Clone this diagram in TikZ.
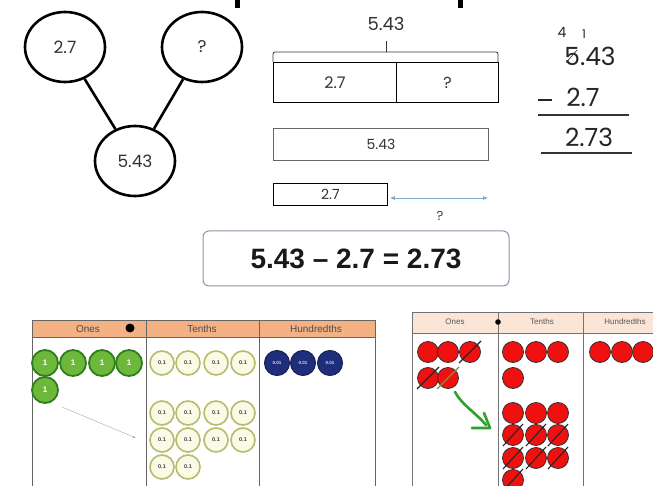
\documentclass[tikz,border=0pt]{standalone}
\usepackage{fontspec}
\setmainfont{Liberation Sans}
\newfontfamily\geo{Poppins}
\usetikzlibrary{arrows.meta,calc,shapes.geometric}
\definecolor{hdrA}{HTML}{F4B183}
\definecolor{hdrB}{HTML}{FBE5D6}
\definecolor{onegreen}{HTML}{6DB83A}
\definecolor{onegreenD}{HTML}{2F7D1E}
\definecolor{tenfill}{HTML}{FAFAE6}
\definecolor{tenborder}{HTML}{B5BC6A}
\definecolor{hundblue}{HTML}{1F2E7A}
\definecolor{arrblue}{HTML}{7FA7C9}
\definecolor{eqborder}{HTML}{8A96A8}
\definecolor{redc}{HTML}{F01010}
\definecolor{grarrow}{HTML}{2EA02E}
\tikzset{
  bond/.style={draw, line width=2.6pt, ellipse, minimum width=80pt, minimum height=70pt, inner sep=0pt, font=\geo\fontsize{17}{17}\selectfont, text=black!80},
  bondline/.style={line width=2.6pt},
  barbox/.style={draw, line width=0.9pt, inner sep=0pt, font=\geo\fontsize{16}{16}\selectfont, text=black!80},
  colnum/.style={font=\geo\fontsize{25}{25}\selectfont, text=black!85, inner sep=0pt},
  hdrtxt/.style={font=\fontsize{10}{10}\selectfont, text=black!70},
  hdrtxtB/.style={font=\fontsize{8}{8}\selectfont, text=black!65},
  onec/.style={circle, draw=onegreenD, line width=1.8pt, fill=onegreen, minimum size=26pt, inner sep=0pt, text=white, font=\bfseries\fontsize{8}{8}\selectfont},
  tenc/.style={circle, draw=tenborder, line width=1.6pt, fill=tenfill, minimum size=24pt, inner sep=0pt, text=black!75, font=\bfseries\fontsize{5.5}{5.5}\selectfont},
  hundc/.style={circle, draw=hundblue!70!black, line width=1pt, fill=hundblue, minimum size=25pt, inner sep=0pt, text=white!85!blue, font=\bfseries\fontsize{4.5}{4.5}\selectfont},
  redcirc/.style={circle, draw=black!80, line width=0.8pt, fill=redc, minimum size=21pt, inner sep=0pt},
  xline/.style={line width=1.1pt, black!85}
}
\begin{document}
\begin{tikzpicture}[x=1pt,y=-1pt]
\useasboundingbox (0,0) rectangle (653,486);
\fill[white] (0,0) rectangle (653,486);
% title fragments
\fill[black] (235,0) rectangle (239.5,8);
\fill[black] (458,0) rectangle (462.5,8);

% number bond
\node[bond] (b1) at (65,47) {2.7};
\node[bond] (b2) at (202,47) {?};
\node[bond] (b3) at (135,161) {5.43};
\draw[bondline] (b1) -- (b3);
\draw[bondline] (b2) -- (b3);

% bar model with brace
\node[barbox, minimum width=123pt, minimum height=40pt, anchor=north west] (bl) at (273,62) {2.7};
\node[barbox, minimum width=102pt, minimum height=40pt, anchor=north west] (br) at (396,62) {?};
\coordinate (brL) at (273,62);
\coordinate (brR) at (498,62);
\coordinate (brM) at (386,52);
\draw[line width=0.8pt, black!80, rounded corners=2pt] (brL) -- ++(0,-10) -- (brM) -- (brR |- brM) -- (brR);
\draw[line width=0.8pt, black!80] (brM) -- ++(0,-11) coordinate (brT);
\node[font=\geo\fontsize{18}{18}\selectfont, text=black!80] (tot) at (386,24) {5.43};

% comparison bars
\node[barbox, draw=black!60, minimum width=215pt, minimum height=32pt, anchor=north west, font=\geo\fontsize{14}{14}\selectfont] (long) at (273,128) {5.43};
\node[barbox, minimum width=114pt, minimum height=22pt, anchor=north west, font=\geo\fontsize{14}{14}\selectfont] (short) at (273,183) {2.7};
\coordinate (aend) at (488,198);
\draw[arrblue, line width=0.7pt, {Latex[length=5pt,width=4pt]}-{Latex[length=5pt,width=4pt]}] (short.east |- aend) ++(2,0) -- (aend);
\node[font=\geo\fontsize{13}{13}\selectfont, text=black!75] (q2) at (440,216) {?};

% column subtraction
\node[font=\geo\fontsize{14}{14}\selectfont, text=black!85] (c4) at (562,32) {4};
\node[font=\geo\fontsize{12}{12}\selectfont, text=black!85] (c1) at (584,34) {1};
\node[colnum] (top) at (590,56) {5.43};
\draw[line width=0.7pt, black!80] ($(top.south west)+(2,-3)$) -- ($(top.west)+(13,-6)$);
\node[colnum] (sub) at (583,97) {2.7};
\coordinate (ma) at (538,100);
\coordinate (mb) at (552,100);
\draw[line width=1.4pt, black!85] (ma) -- (mb);
\coordinate (l1a) at (538,115);
\coordinate (l1b) at (629,115);
\draw[line width=1.2pt, black!80] (l1a) -- (l1b);
\node[colnum] (res) at (589,137) {2.73};
\coordinate (l2a) at (541,153);
\coordinate (l2b) at (632,153);
\draw[line width=1.2pt, black!80] (l2a) -- (l2b);

% equation box
\node[draw=eqborder, line width=1pt, rounded corners=6pt, minimum width=306pt, minimum height=55pt, font=\bfseries\fontsize{28}{28}\selectfont, text=black!90] (eq) at (356,258.5) {5.43 – 2.7 = 2.73};

% left place value chart
\fill[hdrA] (32,320) rectangle (375,337);
\draw[black!60, line width=0.8pt] (32,320) rectangle (375,486);
\draw[black!60, line width=0.8pt] (32,337) -- (375,337);
\draw[black!60, line width=0.8pt] (146,320) -- (146,486);
\draw[black!60, line width=0.8pt] (259,320) -- (259,486);
\node[hdrtxt] (hO) at (88,329) {Ones};
\node[hdrtxt] (hT) at (202,329) {Tenths};
\node[hdrtxt] (hH) at (316,329) {Hundredths};
\fill[black] (130,328) circle (4.5);
\foreach \i/\x/\y in {1/45/363,2/73/363,3/102/363,4/129/363,5/45/390}{
  \node[onec] (one\i) at (\x,\y) {1};
}
\foreach \i/\x/\y in {1/162/363,2/188/363,3/216/363,4/243/363,
  5/162/413,6/188/413,7/216/413,8/243/413,
  9/162/440,10/188/440,11/216/440,12/243/440,
  13/162/467,14/188/467}{
  \node[tenc] (ten\i) at (\x,\y) {0.1};
}
\foreach \i/\x in {1/277,2/303,3/330}{
  \node[hundc] (hun\i) at (\x,363) {0.01};
}
\coordinate (ga) at (62,407);
\coordinate (gb) at (136,438);
\draw[black!35, line width=0.4pt, -{Latex[length=3pt,width=2pt]}] (ga) -- (gb);

% right place value chart
\fill[hdrB] (412,312) rectangle (653,333);
\draw[black!55, line width=0.7pt] (412,312) -- (653,312);
\draw[black!55, line width=0.7pt] (412,333) -- (653,333);
\draw[black!55, line width=0.7pt] (412,312) -- (412,486);
\draw[black!55, line width=0.7pt] (498,312) -- (498,486);
\draw[black!55, line width=0.7pt] (583,312) -- (583,486);
\node[hdrtxtB] (rO) at (455,322) {Ones};
\node[hdrtxtB] (rT) at (542,322) {Tenths};
\node[hdrtxtB] (rH) at (625,322) {Hundredths};
\fill[black] (498,322) circle (2.8);
% ones
\foreach \i/\x/\y in {1/428/352,2/448/352,3/470/352,4/428/378,5/448/378}{
  \node[redcirc] (ro\i) at (\x,\y) {};
}
\draw[xline] ($(ro3)+(-11,11)$) -- ($(ro3)+(11,-11)$);
\draw[xline] ($(ro4)+(-11,11)$) -- ($(ro4)+(11,-11)$);
\draw[line width=1.1pt, olive!60!gray] ($(ro5)+(-11,11)$) -- ($(ro5)+(11,-11)$);
% tenths
\foreach \i/\x/\y in {1/513/352,2/536/352,3/558/352,4/513/378,
  5/513/413,6/536/413,7/558/413,
  8/513/435,9/536/435,10/558/435,
  11/513/458,12/536/458,13/558/458,
  14/513/480}{
  \node[redcirc] (rt\i) at (\x,\y) {};
}
\foreach \i in {8,...,14}{
  \draw[xline] ($(rt\i)+(-10,11)$) -- ($(rt\i)+(10,-11)$);
}
% hundredths
\foreach \i/\x in {1/600,2/622,3/643}{
  \node[redcirc] (rh\i) at (\x,352) {};
}
% green arrow
\coordinate (gs) at (455,392);
\coordinate (ge) at (490,428);
\draw[grarrow, line width=2.6pt, line cap=round] (gs) .. controls (462,405) and (475,412) .. (486,425);
\draw[grarrow, line width=2.6pt, line cap=round, line join=round] (472,428) -- (ge) -- (484,413);
\end{tikzpicture}
\end{document}
